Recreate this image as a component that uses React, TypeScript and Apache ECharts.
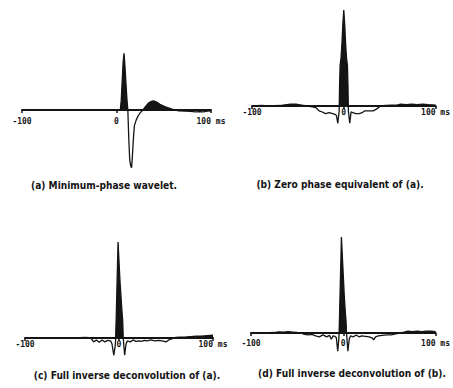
import React, { useEffect, useRef } from "react";
import * as echarts from "echarts";

// Tick positions (ms) and labels
const TICKS = [-100, 0, 100];
const TICK_LABELS = ["-100", "0", "100 ms"];

const CAPTIONS = [
  "(a) Minimum-phase wavelet.",
  "(b) Zero phase equivalent of (a).",
  "(c) Full inverse deconvolution of (a).",
  "(d) Full inverse deconvolution of (b).",
];

// [time ms, amplitude]
const WAVELET_A: [number, number][] = [
  [-100, 0], [4, 0], [5, 0.1], [6, 0.3], [7, 0.5], [8, 0.59], [9, 0.45], [10, 0.28], [11, 0.12], [12, 0],
  [13, -0.3], [14, -0.52], [15, -0.58], [16, -0.6], [17, -0.45], [18, -0.28], [19, -0.16], [21, -0.1],
  [23, -0.06], [25, -0.03], [28, 0], [31, 0.04], [34, 0.075], [37, 0.09], [39, 0.095], [42, 0.085],
  [46, 0.06], [50, 0.04], [54, 0.025], [58, 0.012], [62, 0], [66, -0.01], [72, -0.012], [78, -0.015],
  [84, -0.02], [88, -0.018], [92, -0.02], [96, -0.012], [100, -0.01],
];

const ZERO_PHASE_B: [number, number][] = [
  [-100, 0], [-90, 0.005], [-80, 0], [-70, 0.005], [-62, 0.015], [-58, 0.02], [-52, 0.02], [-46, 0.01],
  [-40, 0], [-34, -0.01], [-30, -0.02], [-27, -0.05], [-24, -0.06], [-20, -0.08], [-16, -0.07], [-12, -0.08],
  [-9, -0.09], [-8, -0.1], [-6.5, -0.18], [-5, -0.05], [-4.6, 0.2], [-4, 0.42], [-3, 0.5], [-2, 0.65],
  [-1, 0.85], [0, 1.0], [1, 0.85], [2, 0.65], [3, 0.5], [4, 0.42], [4.6, 0.2], [5, -0.05], [6.5, -0.18],
  [8, -0.06], [10, -0.07], [13, -0.08], [17, -0.08], [20, -0.07], [23, -0.05], [27, -0.05], [32, -0.05],
  [36, -0.03], [40, 0], [46, 0.005], [52, 0.01], [58, 0.01], [62, 0.02], [68, 0.015], [74, 0.02],
  [80, 0.015], [86, 0.02], [92, 0.015], [100, 0.01],
];

const DECON_C: [number, number][] = [
  [-100, 0], [-50, 0], [-35, 0.005], [-30, 0], [-27, -0.04], [-24, -0.02], [-21, -0.045], [-18, -0.02],
  [-15, -0.04], [-12, -0.025], [-9, -0.03], [-7.5, -0.06], [-5.5, -0.18], [-4, -0.08], [-3.5, 0],
  [-3, 0.2], [-2, 0.6], [-1, 1.0], [0, 0.8], [1, 0.6], [2, 0.45], [3, 0.3], [4, 0.17], [4.5, 0],
  [6, -0.18], [7.5, -0.06], [9, -0.03], [12, -0.04], [15, -0.02], [18, -0.035], [21, -0.03], [24, -0.035],
  [27, -0.025], [30, -0.03], [34, -0.02], [38, -0.03], [42, -0.025], [46, -0.03], [50, -0.04], [53, -0.02],
  [56, -0.01], [60, 0.005], [65, 0.008], [70, 0.01], [76, 0.015], [82, 0.018], [88, 0.02], [94, 0.025],
  [100, 0.03],
];

const DECON_D: [number, number][] = [
  [-100, 0], [-85, 0], [-75, 0.005], [-70, 0.012], [-65, 0.01], [-60, 0.015], [-55, 0.01], [-50, 0.005],
  [-46, 0], [-42, -0.015], [-38, -0.02], [-34, -0.015], [-30, -0.03], [-26, -0.04], [-22, -0.02],
  [-18, -0.04], [-15, -0.025], [-13, -0.065], [-11, -0.03], [-9, -0.035], [-7.5, -0.05], [-6, -0.19],
  [-4.8, -0.06], [-4.5, 0], [-4, 0.2], [-3, 0.6], [-2, 1.0], [-1, 0.8], [0, 0.6], [1, 0.4], [2, 0.25],
  [3, 0.12], [3.5, 0], [5, -0.19], [6.5, -0.06], [8, -0.03], [11, -0.04], [14, -0.02], [17, -0.04],
  [20, -0.03], [24, -0.035], [28, -0.04], [31, -0.05], [33, -0.07], [35, -0.04], [38, -0.03], [42, -0.025],
  [47, -0.02], [52, -0.02], [57, -0.01], [61, 0], [66, 0.01], [70, 0.02], [75, 0.015], [80, 0.02],
  [85, 0.015], [90, 0.02], [95, 0.02], [100, 0.015],
];

const TRACES = [WAVELET_A, ZERO_PHASE_B, DECON_C, DECON_D];

// layout (pixels)
const SCALE = 96; // px per amplitude unit
const PANELS = [
  { left: 22, width: 189, zeroY: 110, margin: 7, cx: 104, cy: 185 },
  { left: 252, width: 187, zeroY: 106, margin: 2, cx: 340, cy: 184 },
  { left: 25, width: 188, zeroY: 338, margin: 2, cx: 127, cy: 375 },
  { left: 251, width: 189, zeroY: 333, margin: 6, cx: 352, cy: 373 },
];

const INK = "#141414";

function positivePart(pts: [number, number][]): [number, number][] {
  const out: [number, number][] = [];
  for (let i = 0; i < pts.length; i++) {
    const [t, a] = pts[i];
    if (i > 0) {
      const [t0, a0] = pts[i - 1];
      if ((a0 > 0 && a < 0) || (a0 < 0 && a > 0)) {
        out.push([t0 + ((t - t0) * a0) / (a0 - a), 0]);
      }
    }
    out.push([t, Math.max(a, 0)]);
  }
  return out;
}

export default function App() {
  const ref = useRef<HTMLDivElement>(null);
  useEffect(() => {
    document.body.style.margin = "0";
    const chart = echarts.init(ref.current!, null, { renderer: "svg" });
    const grid = PANELS.map((p) => ({
      left: p.left,
      width: p.width,
      top: p.zeroY - SCALE,
      height: SCALE,
      containLabel: false,
    }));
    const xAxis = PANELS.map((p, i) => ({
      type: "value",
      gridIndex: i,
      min: TICKS[0],
      max: TICKS[TICKS.length - 1],
      interval: 100,
      axisLine: { lineStyle: { color: INK, width: 2 } },
      axisTick: { show: true, length: 3, lineStyle: { color: INK, width: 1.5 } },
      splitLine: { show: false },
      axisLabel: {
        margin: p.margin,
        fontFamily: "DejaVu Sans Mono",
        fontWeight: "bold",
        fontSize: 8,
        color: INK,
        showMinLabel: true,
        showMaxLabel: true,
        formatter: (v: number) => TICK_LABELS[TICKS.indexOf(v)] ?? "",
      },
      z: 1,
    }));
    const yAxis = PANELS.map((p, i) => ({
      type: "value",
      gridIndex: i,
      min: 0,
      max: 1,
      axisLine: { show: false },
      axisTick: { show: false },
      axisLabel: { show: false },
      splitLine: { show: false },
    }));
    const series: any[] = [];
    TRACES.forEach((d, i) => {
      series.push({
        type: "line",
        xAxisIndex: i,
        yAxisIndex: i,
        data: positivePart(d),
        symbol: "none",
        clip: false,
        lineStyle: { width: 0 },
        areaStyle: { color: INK, opacity: 1, origin: 0 },
        silent: true,
        z: 2,
      });
      series.push({
        type: "line",
        xAxisIndex: i,
        yAxisIndex: i,
        data: d,
        symbol: "none",
        clip: false,
        lineStyle: { color: INK, width: 1.3 },
        silent: true,
        z: 3,
      });
    });
    chart.setOption({
      animation: false,
      backgroundColor: "#ffffff",
      grid,
      xAxis,
      yAxis,
      series,
      graphic: PANELS.map((p, i) => ({
        type: "text",
        x: p.cx,
        y: p.cy,
        scaleX: 0.92,
        style: {
          text: CAPTIONS[i],
          fontFamily: "'DejaVu Sans Condensed', 'DejaVu Sans', sans-serif",
          fontWeight: "bold",
          fontSize: 11,
          fill: INK,
          align: "center",
          verticalAlign: "middle",
        },
      })),
    });
    return () => chart.dispose();
  }, []);
  return <div ref={ref} style={{ width: 453, height: 388 }} />;
}
